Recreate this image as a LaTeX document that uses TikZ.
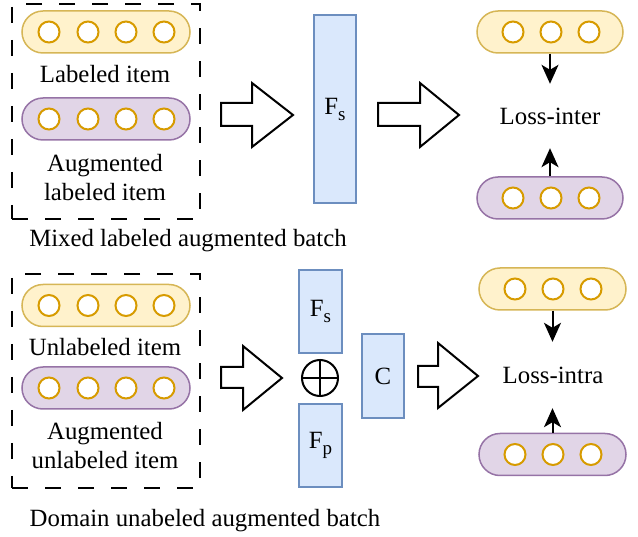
\documentclass[tikz,border=0pt]{standalone}
\usepackage{fontspec}
\setmainfont{Liberation Serif}
\usetikzlibrary{arrows.meta}
\definecolor{yfill}{HTML}{FFF2CC}
\definecolor{ydraw}{HTML}{D6B656}
\definecolor{pfill}{HTML}{E1D5E7}
\definecolor{pdraw}{HTML}{9673A6}
\definecolor{bfill}{HTML}{DAE8FC}
\definecolor{bdraw}{HTML}{6C8EBF}
\definecolor{odraw}{HTML}{D79B00}
\newcommand\mysub[1]{\raisebox{-6pt}{\fontsize{19}{19}\selectfont #1}}
\tikzset{
  every node/.style={font=\fontsize{24.8}{29}\selectfont},
  pillbase/.style={rounded corners=21pt, line width=1.5pt, minimum height=42pt, inner sep=0pt},
  ypill/.style={pillbase, draw=ydraw, fill=yfill},
  ppill/.style={pillbase, draw=pdraw, fill=pfill},
  dot/.style={circle, draw=odraw, fill=white, line width=2pt, minimum size=21pt, inner sep=0pt},
  bbox/.style={draw=bdraw, fill=bfill, line width=1.5pt, inner sep=0pt},
  dbox/.style={draw=black, line width=2pt, dash pattern=on 16pt off 17pt, inner sep=0pt},
  blockarrow/.style={draw=black, fill=white, line width=2pt, line join=miter},
  lossarrow/.style={line width=2pt, -{Stealth[length=19pt,width=17pt,inset=5pt]}},
  lbl/.style={align=center, inner sep=0pt},
}
\begin{document}
\begin{tikzpicture}[x=1pt,y=-1pt]
\useasboundingbox (0,0) rectangle (638,537);

% ---------- top row ----------
\node[dbox, minimum width=188pt, minimum height=215pt] (box1) at (106,111.5) {};
\node[ypill, minimum width=168pt] (yl1) at (106,32) {};
\foreach \x [count=\i] in {49,88,126,164} \node[dot] (yl1c\i) at (\x,32) {};
\node[lbl] (t1) at (105,74) {Labeled item};
\node[ppill, minimum width=168pt] (pl1) at (106,119) {};
\foreach \x [count=\i] in {49,88,126,164} \node[dot] (pl1c\i) at (\x,119) {};
\node[lbl] (t2) at (105,177.5) {Augmented\\labeled item};
\node[lbl] (t3) at (188,241) {Mixed labeled augmented batch};

\path[blockarrow] (221,103) -- (252,103) -- (252,83) -- (293,115) -- (252,147) -- (252,126) -- (221,126) -- cycle;
\node[bbox, minimum width=42pt, minimum height=188pt] (fs1) at (335,109) {F\mysub{s}};
\path[blockarrow] (378,103) -- (420,103) -- (420,83) -- (459,115) -- (420,147) -- (420,126) -- (378,126) -- cycle;

\node[ypill, minimum width=146pt] (yr1) at (550,32) {};
\foreach \x [count=\i] in {513,551,589} \node[dot] (yr1c\i) at (\x,32) {};
\node[lbl, minimum height=64pt] (linter) at (550,116) {Loss-inter};
\node[ppill, minimum width=146pt] (pr1) at (550,198) {};
\foreach \x [count=\i] in {513,551,589} \node[dot] (pr1c\i) at (\x,198) {};
\draw[lossarrow] (yr1.south) -- (linter.north);
\draw[lossarrow] (pr1.north) -- (linter.south);

% ---------- bottom row ----------
\node[dbox, minimum width=188pt, minimum height=214pt] (box2) at (106,381) {};
\node[ypill, minimum width=168pt] (yl2) at (106,305.5) {};
\foreach \x [count=\i] in {49,88,126,164} \node[dot] (yl2c\i) at (\x,305.5) {};
\node[lbl] (t4) at (105,347) {Unlabeled item};
\node[ppill, minimum width=168pt] (pl2) at (106,388) {};
\foreach \x [count=\i] in {49,88,126,164} \node[dot] (pl2c\i) at (\x,388) {};
\node[lbl] (t5) at (105,445.5) {Augmented\\unlabeled item};
\node[lbl] (t6) at (205,521) {Domain unabeled augmented batch};

\path[blockarrow] (221,367) -- (243,367) -- (243,346) -- (282,378) -- (243,410) -- (243,388) -- (221,388) -- cycle;
\node[bbox, minimum width=43pt, minimum height=83pt] (fs2) at (320.5,311.5) {F\mysub{s}};
\node[bbox, minimum width=43pt, minimum height=83pt] (fp2) at (320.5,445.5) {F\mysub{p}};
\node[circle, draw=black, line width=2pt, minimum size=36pt, inner sep=0pt] (plus) at (320,378) {};
\draw[line width=2pt] (plus.north) -- (plus.south) (plus.west) -- (plus.east);
\node[bbox, minimum width=42pt, minimum height=84pt] (cc) at (383,376) {C};
\path[blockarrow] (418,366) -- (438,366) -- (438,343) -- (478,376) -- (438,408) -- (438,387) -- (418,387) -- cycle;

\node[ypill, minimum width=147pt] (yr2) at (552.5,289) {};
\foreach \x [count=\i] in {515,553,591} \node[dot] (yr2c\i) at (\x,289) {};
\node[lbl, minimum height=66pt] (lintra) at (553,375) {Loss-intra};
\node[ppill, minimum width=147pt] (pr2) at (552.5,454.5) {};
\foreach \x [count=\i] in {515,553,591} \node[dot] (pr2c\i) at (\x,454.5) {};
\draw[lossarrow] (yr2.south) -- (yr2.south |- lintra.north);
\draw[lossarrow] (pr2.north) -- (pr2.north |- lintra.south);
\end{tikzpicture}
\end{document}
